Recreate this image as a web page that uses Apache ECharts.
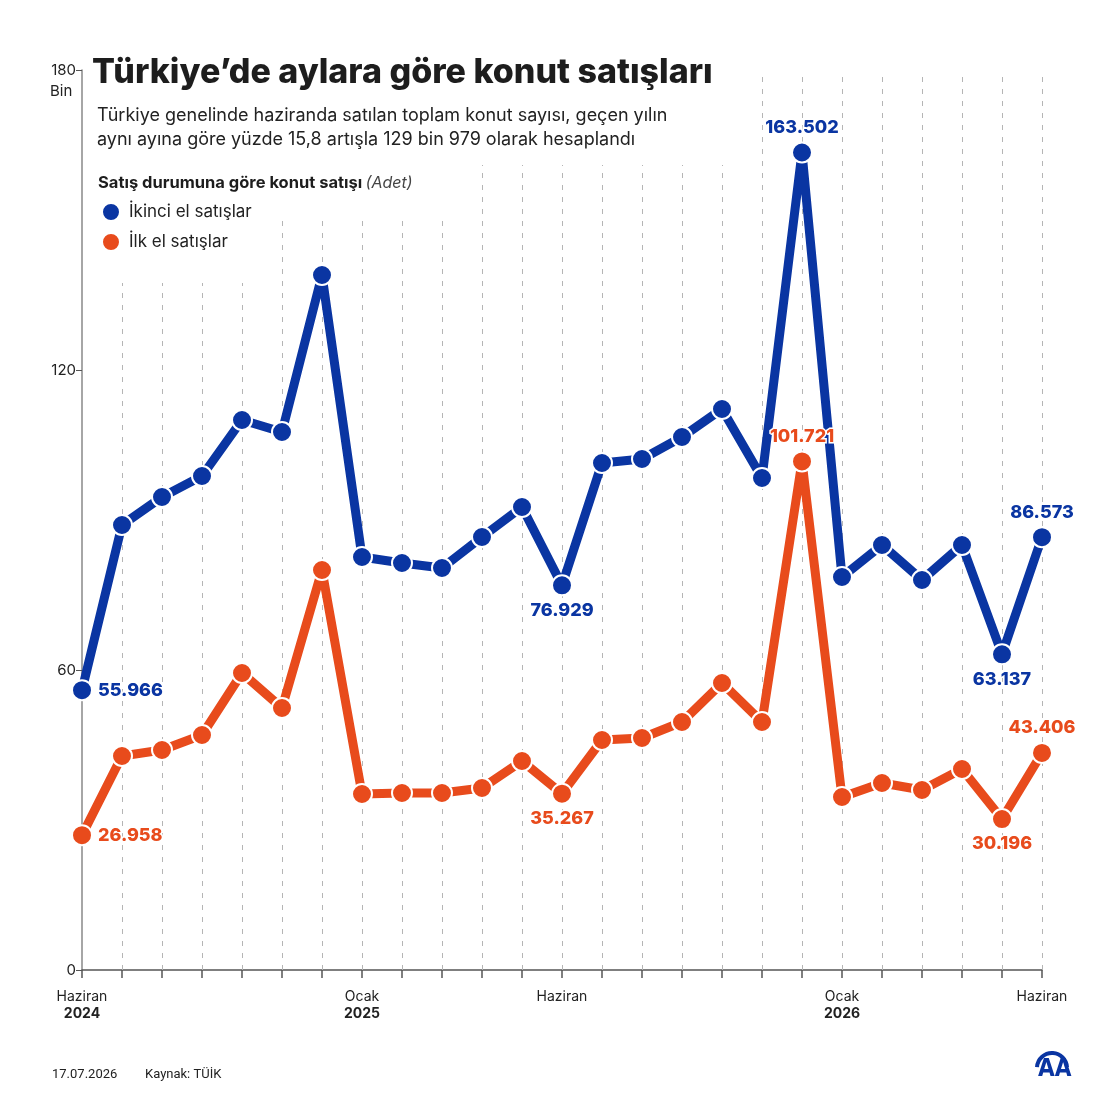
<!DOCTYPE html>
<html><head><meta charset="utf-8">
<script src="https://cdn.jsdelivr.net/npm/echarts@6/dist/echarts.min.js"></script>
<style>html,body{margin:0;padding:0;background:#fff}#c{width:1120px;height:1120px}</style>
</head><body><div id="c"></div>
<script>
// Months June 2024 .. June 2026
const months = ['Haz 2024','Tem 2024','Ağu 2024','Eyl 2024','Eki 2024','Kas 2024','Ara 2024',
  'Oca 2025','Şub 2025','Mar 2025','Nis 2025','May 2025','Haz 2025','Tem 2025','Ağu 2025','Eyl 2025',
  'Eki 2025','Kas 2025','Ara 2025','Oca 2026','Şub 2026','Mar 2026','Nis 2026','May 2026','Haz 2026'];
// thousands of units
const ikinciEl = [55.966, 89.0, 94.6, 98.8, 110.0, 107.6, 139.0, 82.6, 81.4, 80.4, 86.6, 92.6, 76.929,
  101.4, 102.2, 106.6, 112.2, 98.4, 163.502, 78.6, 85.0, 78.0, 85.0, 63.137, 86.573];
const ilkEl = [26.958, 42.8, 44.0, 47.0, 59.4, 52.4, 80.0, 35.2, 35.4, 35.4, 36.4, 41.8, 35.267,
  46.0, 46.4, 49.6, 57.4, 49.6, 101.721, 34.6, 37.4, 36.0, 40.2, 30.196, 43.406];
const xTickLabels = {0:'Haziran|2024', 7:'Ocak|2025', 12:'Haziran', 19:'Ocak|2026', 24:'Haziran'};
const yTicks = [0, 60, 120, 180];
const labeledIkinci = {0:'right', 12:'bottom', 18:'top', 23:'bottom', 24:'top'};
const labeledIlk = {0:'right', 12:'bottom', 18:'top', 23:'bottom', 24:'top'};
// vertical guide line tops (style, axis units) per month
const guideTop = [0,137.4,137.4,137.4,137.4,150.6,150.6,150.6,150.6,150.6,161,161,161,161,161,161,161,180,180,180,180,180,180,180,180];

const BLUE = '#0a35a2', ORANGE = '#e84b1c';
const FONT = 'Inter, "Noto Sans", sans-serif';

function buildData(vals, labeled, color){
  return vals.map((v,i)=>{
    const o = {value:v};
    if (labeled[i]) {
      o.label = {show:true, position:labeled[i], distance: 5,
        formatter: ()=> v.toFixed(3), color: color, fontSize: 18, fontWeight: 800, fontFamily: FONT,
        textBorderColor:'#fff', textBorderWidth:3};
    }
    return o;
  });
}

const chart = echarts.init(document.getElementById('c'), null, {renderer:'canvas'});
const guides = months.map((m,i)=> i===0?null:[{coord:[i,0]},{coord:[i,guideTop[i]]}]).filter(Boolean);

chart.setOption({
  backgroundColor:'#fff',
  animation:false,
  textStyle:{fontFamily:FONT},
  grid:{left:82, right:78, top:70, bottom:150, containLabel:false},
  legend:{
    left:96, top:197, orient:'vertical', itemWidth:18, itemHeight:18, itemGap:10,
    icon:'circle', textStyle:{fontSize:17, color:'#222', fontFamily:FONT, padding:[0,0,0,4]},
    data:['İkinci el satışlar','İlk el satışlar']
  },
  xAxis:{
    type:'category', data:months, boundaryGap:false,
    axisLine:{lineStyle:{color:'#555', width:1.5}},
    axisTick:{show:true, alignWithLabel:true, length:8, interval:0, lineStyle:{color:'#555', width:1.5}},
    axisLabel:{interval:0, margin:18, color:'#222', fontSize:14, lineHeight:17, fontFamily:FONT,
      formatter:(val,idx)=>{
        const t = xTickLabels[idx]; if(!t) return '';
        const p = t.split('|');
        return p.length>1 ? p[0]+'\n{y|'+p[1]+'}' : p[0];
      },
      rich:{y:{fontSize:14, fontWeight:'bold', color:'#222', fontFamily:FONT, lineHeight:17}}
    },
    splitLine:{show:false}
  },
  yAxis:{
    type:'value', min:0, max:180, interval:60,
    axisLine:{show:true, lineStyle:{color:'#888', width:1.5}},
    axisTick:{show:true, length:6, lineStyle:{color:'#555'}},
    axisLabel:{color:'#222', fontSize:15, margin:6, fontFamily:FONT,
      formatter:v=> yTicks.includes(v)? String(v):''},
    splitLine:{show:false}
  },
  series:[
    {name:'guides', type:'line', data:[], silent:true, z:1,
      markLine:{silent:true, z:1, symbol:'none', label:{show:false},
        lineStyle:{color:'#b5b5b5', type:[5,7], width:1}, data:guides}},
    {name:'İkinci el satışlar', type:'line', data:buildData(ikinciEl, labeledIkinci, BLUE), color:BLUE,
      symbol:'circle', symbolSize:20, z:3,
      lineStyle:{width:9, color:BLUE},
      itemStyle:{color:BLUE, borderColor:'#fff', borderWidth:2}},
    {name:'İlk el satışlar', type:'line', data:buildData(ilkEl, labeledIlk, ORANGE), color:ORANGE,
      symbol:'circle', symbolSize:20, z:4,
      lineStyle:{width:9, color:ORANGE},
      itemStyle:{color:ORANGE, borderColor:'#fff', borderWidth:2}}
  ],
  graphic:[
    {type:'text', left:50, top:84, style:{text:'Bin', fontSize:15, fill:'#222', fontFamily:FONT}},
    {type:'text', left:92, top:56, style:{text:'Türkiye’de aylara göre konut satışları', fontSize:34, fontWeight:800, fill:'#1d1d1d', fontFamily:FONT}},
    {type:'text', left:97, top:104, style:{text:'Türkiye genelinde haziranda satılan toplam konut sayısı, geçen yılın\naynı ayına göre yüzde 15,8 artışla 129 bin 979 olarak hesaplandı', fontSize:18, lineHeight:24, fill:'#222', fontFamily:FONT}},
    {type:'text', left:98, top:175, style:{text:'{b|Satış durumuna göre konut satışı} {i|(Adet)}', rich:{
      b:{fontSize:16.5, fontWeight:'bold', fill:'#1d1d1d', fontFamily:FONT},
      i:{fontSize:16, fontStyle:'italic', fill:'#444', fontFamily:FONT}}}},
    {type:'text', left:52, top:1068, style:{text:'17.07.2026', fontSize:13, fill:'#222', fontFamily:'Roboto, sans-serif'}},
    {type:'text', left:145, top:1068, style:{text:'Kaynak: TÜİK', fontSize:13, fill:'#222', fontFamily:'Roboto, sans-serif'}},
    {type:'arc', shape:{cx:1052, cy:1068, r:15, startAngle:Math.PI*1.02, endAngle:Math.PI*1.98}, style:{stroke:BLUE, lineWidth:4, fill:null}},
    {type:'text', left:1038, top:1058, style:{text:'AA', fontSize:24, fontWeight:'bold', fill:BLUE, fontFamily:'"Liberation Sans Narrow", "DejaVu Sans Condensed", sans-serif'}}
  ]
});
</script></body></html>
